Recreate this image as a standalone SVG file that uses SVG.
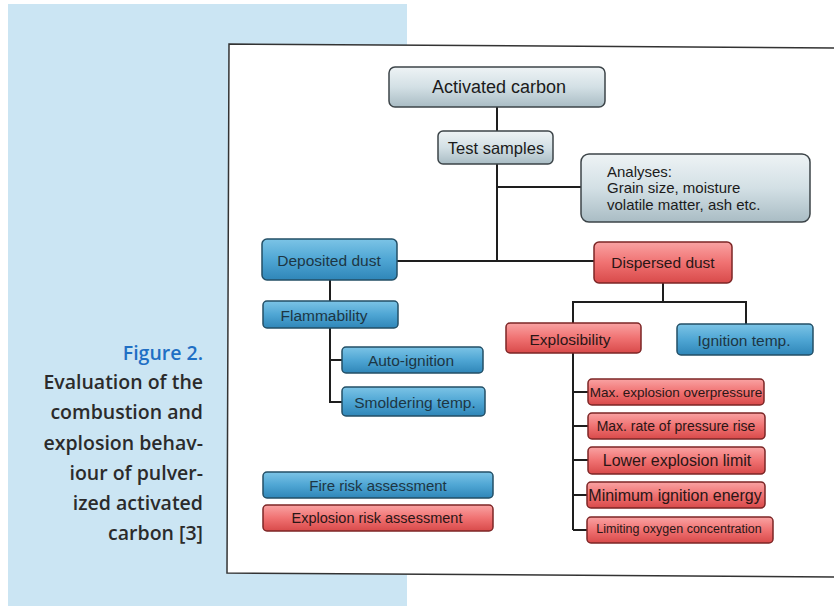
<svg xmlns="http://www.w3.org/2000/svg" width="834" height="606" viewBox="0 0 834 606">
<defs>
<linearGradient id="gGrey" x1="0" y1="0" x2="0" y2="1">
<stop offset="0" stop-color="#eef3f5"/><stop offset="0.5" stop-color="#d3e0e5"/><stop offset="1" stop-color="#a9bcc4"/>
</linearGradient>
<linearGradient id="gBlue" x1="0" y1="0" x2="0" y2="1">
<stop offset="0" stop-color="#7cc4e6"/><stop offset="0.5" stop-color="#4fa6d4"/><stop offset="1" stop-color="#2f86b8"/>
</linearGradient>
<linearGradient id="gRed" x1="0" y1="0" x2="0" y2="1">
<stop offset="0" stop-color="#f9a3a3"/><stop offset="0.5" stop-color="#f07272"/><stop offset="1" stop-color="#d84a4a"/>
</linearGradient>
<style>
.grey{fill:url(#gGrey);stroke:#3c4448;stroke-width:1.5}
.blue{fill:url(#gBlue);stroke:#234f66;stroke-width:1.5}
.red{fill:url(#gRed);stroke:#7c2626;stroke-width:1.5}
text{font-family:"Liberation Sans",Arial,sans-serif;text-anchor:middle;dominant-baseline:central}
.tg{fill:#1b1b1b}
.tb{fill:#1d3644}
.tr{fill:#2a1616}
.cap{font-family:"Open Sans","Noto Sans",sans-serif;font-weight:600;text-anchor:end;dominant-baseline:auto;font-size:19.5px;fill:#2b2b2b}
.conn{stroke:#1e1e1e;stroke-width:2;fill:none}
</style>
</defs>
<rect x="0" y="0" width="834" height="606" fill="#ffffff"/>
<rect x="8" y="4" width="399" height="602" fill="#cbe5f3"/>
<polygon points="229,44 836,48 836,577 227,573" fill="#ffffff" stroke="#333" stroke-width="1.5"/>

<g id="caption">
<text class="cap" x="203" y="360" style="fill:#1f6fc4">Figure 2.</text>
<text class="cap" x="203" y="389">Evaluation of the</text>
<text class="cap" x="203" y="419">combustion and</text>
<text class="cap" x="203" y="450">explosion behav-</text>
<text class="cap" x="203" y="480">iour of pulver-</text>
<text class="cap" x="203" y="510">ized activated</text>
<text class="cap" x="203" y="540">carbon [3]</text>
</g>

<g id="connectors">
<path class="conn" d="M497,107 V131"/>
<path class="conn" d="M497,164 V261"/>
<path class="conn" d="M497,187 H581"/>
<path class="conn" d="M397,261 H594"/>
<path class="conn" d="M663,283 V302"/>
<path class="conn" d="M573,323 V302 H746 V324"/>
<path class="conn" d="M573,353 V530"/>
<path class="conn" d="M573,392 H588 M573,426 H588 M573,460 H588 M573,495 H587 M573,530 H587"/>
<path class="conn" d="M330,280 V301"/>
<path class="conn" d="M330,328 V402 H342 M330,360 H342"/>
</g>

<g id="activated-carbon">
<rect class="grey" x="389" y="67" width="216" height="40" rx="6"/>
<text class="tg" x="499" y="87" font-size="18">Activated carbon</text>
</g>
<g id="test-samples">
<rect class="grey" x="438" y="131" width="115" height="33" rx="5"/>
<text class="tg" x="496" y="147.5" font-size="16.5">Test samples</text>
</g>
<g id="analyses">
<rect class="grey" x="581" y="154" width="229" height="68" rx="8"/>
<text class="tg" x="607" y="171" font-size="15" style="text-anchor:start">Analyses:</text>
<text class="tg" x="607" y="187.5" font-size="15" style="text-anchor:start">Grain size, moisture</text>
<text class="tg" x="607" y="204" font-size="15" style="text-anchor:start">volatile matter, ash etc.</text>
</g>
<g id="deposited-dust">
<rect class="blue" x="262" y="239" width="135" height="41" rx="5"/>
<text class="tb" x="329" y="260" font-size="15.5">Deposited dust</text>
</g>
<g id="dispersed-dust">
<rect class="red" x="594" y="242" width="138" height="41" rx="5"/>
<text class="tr" x="663" y="262" font-size="15.5">Dispersed dust</text>
</g>
<g id="flammability">
<rect class="blue" x="263" y="301" width="135" height="27" rx="4"/>
<text class="tb" x="324" y="315" font-size="15.5">Flammability</text>
</g>
<g id="auto-ignition">
<rect class="blue" x="342" y="347" width="141" height="26" rx="4"/>
<text class="tb" x="411" y="360" font-size="15.5">Auto-ignition</text>
</g>
<g id="smoldering-temp">
<rect class="blue" x="342" y="387" width="143" height="29" rx="4"/>
<text class="tb" x="415" y="402" font-size="15.5">Smoldering temp.</text>
</g>
<g id="explosibility">
<rect class="red" x="506" y="323" width="135" height="30" rx="4"/>
<text class="tr" x="570" y="339" font-size="15.5">Explosibility</text>
</g>
<g id="ignition-temp">
<rect class="blue" x="677" y="324" width="136" height="31" rx="4"/>
<text class="tb" x="744" y="340" font-size="15.5">Ignition temp.</text>
</g>
<g id="max-explosion-overpressure">
<rect class="red" x="588" y="379" width="176" height="26" rx="4"/>
<text class="tr" x="676" y="392" font-size="13.5">Max. explosion overpressure</text>
</g>
<g id="max-rate-pressure-rise">
<rect class="red" x="588" y="413" width="177" height="26" rx="4"/>
<text class="tr" x="676" y="426" font-size="14">Max. rate of pressure rise</text>
</g>
<g id="lower-explosion-limit">
<rect class="red" x="588" y="447" width="177" height="27" rx="4"/>
<text class="tr" x="677" y="460.5" font-size="16">Lower explosion limit</text>
</g>
<g id="minimum-ignition-energy">
<rect class="red" x="587" y="482" width="178" height="26" rx="4"/>
<text class="tr" x="675" y="495" font-size="16">Minimum ignition energy</text>
</g>
<g id="limiting-oxygen-concentration">
<rect class="red" x="587" y="517" width="186" height="26" rx="4"/>
<text class="tr" x="679" y="529" font-size="12.5">Limiting oxygen concentration</text>
</g>
<g id="fire-risk-assessment">
<rect class="blue" x="263" y="472" width="230" height="26" rx="4"/>
<text class="tb" x="378" y="485" font-size="15">Fire risk assessment</text>
</g>
<g id="explosion-risk-assessment">
<rect class="red" x="263" y="505" width="230" height="26" rx="4"/>
<text class="tr" x="377" y="518" font-size="14.5">Explosion risk assessment</text>
</g>
</svg>
